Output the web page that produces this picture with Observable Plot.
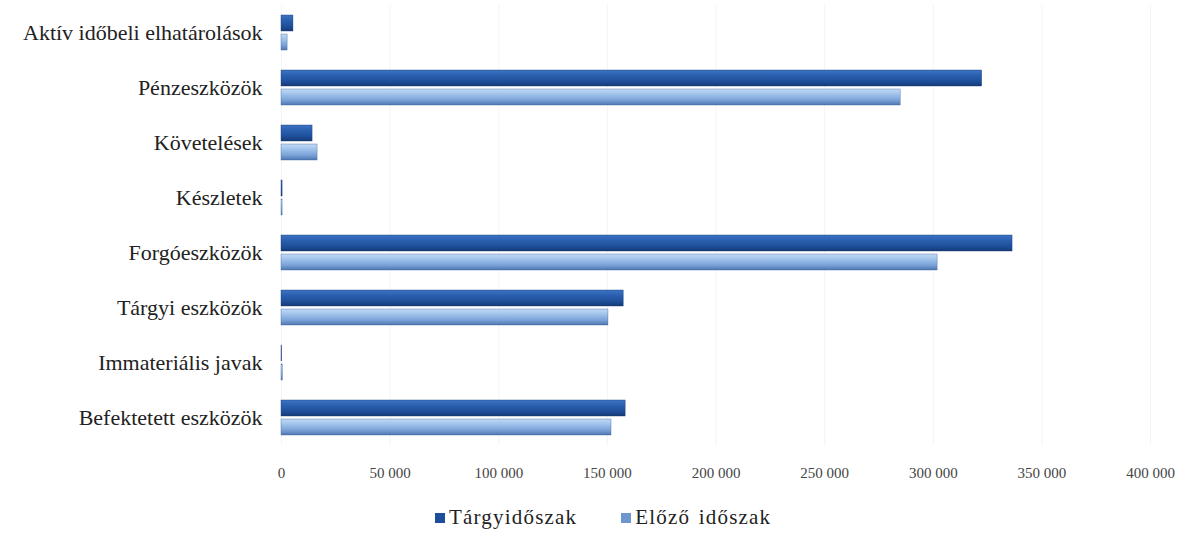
<!DOCTYPE html>
<html>
<head>
<meta charset="utf-8">
<script src="https://cdn.jsdelivr.net/npm/d3@7"></script>
<script src="https://cdn.jsdelivr.net/npm/@observablehq/plot@0.6"></script>
<style>
  html, body { margin: 0; padding: 0; background: #fff; }
  #chart { width: 1188px; }
  .legend { display: flex; justify-content: flex-start; gap: 44px; font-family: "Liberation Serif", "Times New Roman", serif; font-size: 21px; color: #222; margin-top: 13px; padding-left: 435px; letter-spacing: 1.2px; word-spacing: 2px; }
  .legend span.item { display: inline-flex; align-items: center; }
  .legend span.sw { display: inline-block; width: 10px; height: 10px; margin-right: 4px; }
</style>
</head>
<body>
<div id="chart"></div>
<script>
const categories = ["Aktív időbeli elhatárolások","Pénzeszközök","Követelések","Készletek","Forgóeszközök","Tárgyi eszközök","Immateriális javak","Befektetett eszközök"];
const seriesNames = ["Tárgyidőszak","Előző időszak"];
const current  = [5500, 322500, 14300, 500, 336500, 157500, 300, 158400];
const previous = [2800, 285000, 16600, 500, 302000, 150500, 600, 151900];
const xTicks = [0, 50000, 100000, 150000, 200000, 250000, 300000, 350000, 400000];

const rows = [];
categories.forEach((c, i) => {
  rows.push({cat: c, series: seriesNames[0], value: current[i]});
  rows.push({cat: c, series: seriesNames[1], value: previous[i]});
});
const fmt = v => d3.format(",")(v).replace(/,/g, " ");

const plot = Plot.plot({
  width: 1188,
  height: 492,
  marginTop: 3,
  marginBottom: 45,
  marginLeft: 281,
  marginRight: 38,
  style: {fontFamily: "'Liberation Serif', 'Times New Roman', serif", color: "#222", background: "#fff"},
  x: {domain: [0, 400000], ticks: xTicks, tickFormat: fmt, label: null},
  y: {domain: seriesNames, paddingInner: 0.15, paddingOuter: 0.465, axis: null},
  fy: {domain: categories, padding: 0, label: null, axis: null},
  marks: [
    Plot.ruleX(xTicks, {stroke: "#f4f4f4", strokeWidth: 1}),
    Plot.barX(rows.filter(d => d.series === seriesNames[0]), {x: "value", y: "series", fy: "cat", fill: "url(#gDark)", stroke: "#163a72", strokeWidth: 0.4}),
    Plot.barX(rows.filter(d => d.series === seriesNames[1]), {x: "value", y: "series", fy: "cat", fill: "url(#gLight)", stroke: "#3f679f", strokeWidth: 0.4}),
    Plot.axisX({ticks: xTicks, tickFormat: fmt, tickSize: 0, tickPadding: 22, fontSize: 15, label: null, fill: "#444", style: {letterSpacing: "0.8px"}}),
    Plot.axisFy({anchor: "left", tickSize: 0, tickPadding: 19, fontSize: 22, label: null, fill: "#222", style: {letterSpacing: "2.1px"}})
  ]
});

const ns = "http://www.w3.org/2000/svg";
const defs = document.createElementNS(ns, "defs");
function grad(id, stops) {
  const g = document.createElementNS(ns, "linearGradient");
  g.setAttribute("id", id);
  g.setAttribute("x1", "0"); g.setAttribute("y1", "0");
  g.setAttribute("x2", "0"); g.setAttribute("y2", "1");
  stops.forEach(([o, c]) => {
    const s = document.createElementNS(ns, "stop");
    s.setAttribute("offset", o); s.setAttribute("stop-color", c);
    g.appendChild(s);
  });
  defs.appendChild(g);
}
grad("gDark", [["0", "#3c73c2"], ["0.35", "#2a5fae"], ["0.7", "#1f4f9a"], ["1", "#153a76"]]);
grad("gLight", [["0", "#c2dbf5"], ["0.35", "#9dc0ea"], ["0.7", "#7aa2d8"], ["1", "#4d76b0"]]);
plot.insertBefore(defs, plot.firstChild);

document.getElementById("chart").appendChild(plot);

const legend = document.createElement("div");
legend.className = "legend";
const swatchColors = ["#1f4f9a", "#6f97cf"];
seriesNames.forEach((name, i) => {
  const item = document.createElement("span");
  item.className = "item";
  const sw = document.createElement("span");
  sw.className = "sw";
  sw.style.background = swatchColors[i];
  item.appendChild(sw);
  item.appendChild(document.createTextNode(name));
  legend.appendChild(item);
});
document.getElementById("chart").appendChild(legend);
</script>
</body>
</html>
